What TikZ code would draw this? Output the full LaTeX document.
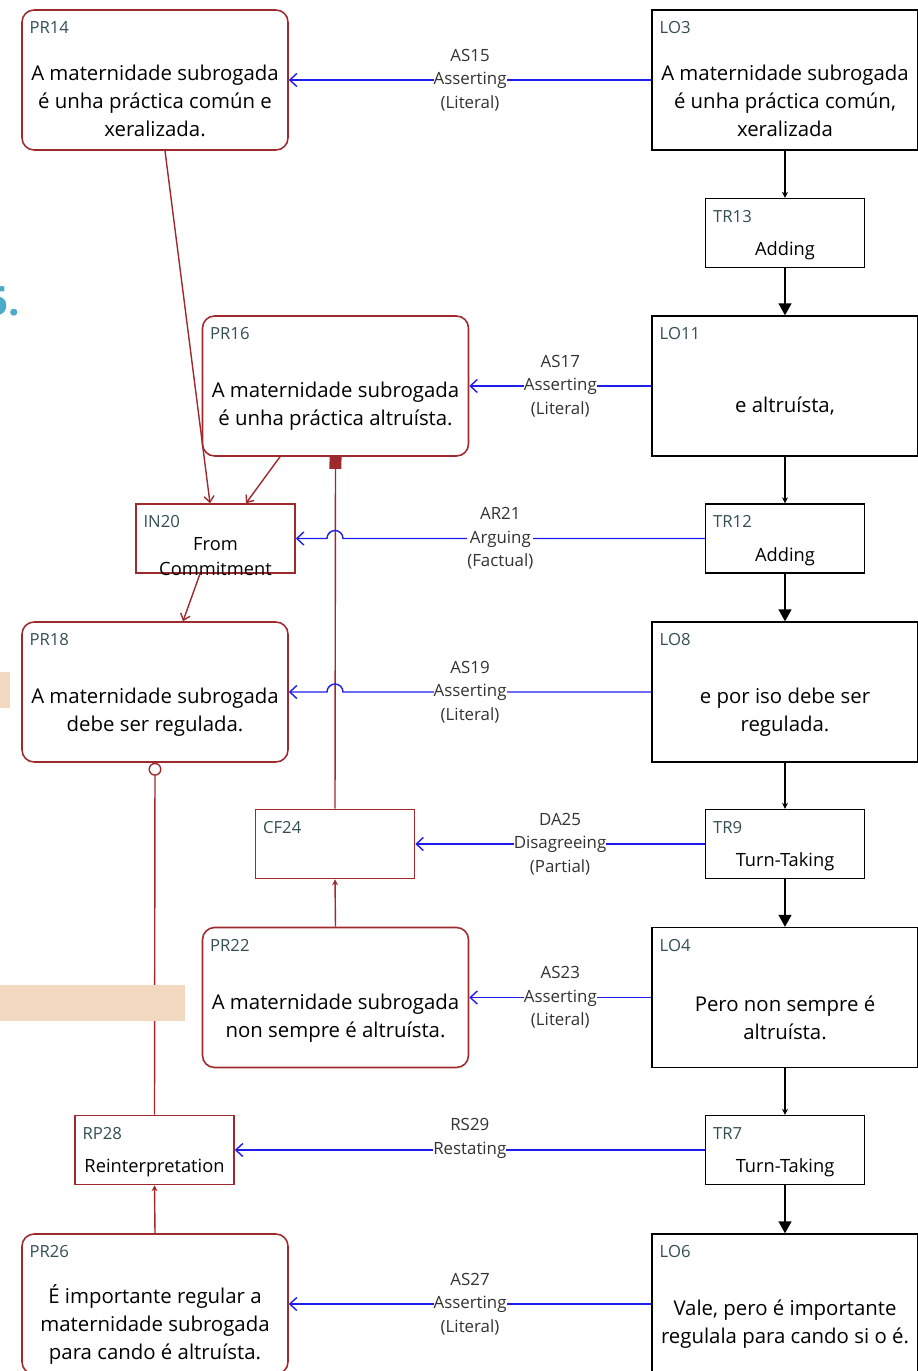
\documentclass[tikz,border=0pt]{standalone}
\usepackage{fontspec}
\setmainfont{Open Sans}
\usetikzlibrary{positioning}
\usetikzlibrary{calc}
\usetikzlibrary{arrows.meta}
\definecolor{propred}{RGB}{158,42,46}
\definecolor{idgrey}{RGB}{52,78,82}
\definecolor{actblue}{RGB}{30,30,235}
\definecolor{slidecyan}{RGB}{75,170,200}
\definecolor{slidetan}{RGB}{242,216,190}

\tikzset{
  bigbox/.style={minimum width=5.32cm, minimum height=2.8cm, inner sep=0pt},
  smallbox/.style={minimum width=3.18cm, minimum height=1.38cm, inner sep=0pt},
  prop/.style={bigbox, draw=propred, rounded corners=0.24cm, line width=0.9pt},
  loc/.style={bigbox, draw=black, line width=0.8pt},
  infer/.style={smallbox, draw=propred, line width=0.9pt},
  trans/.style={smallbox, draw=black, line width=0.8pt},
  idtag/.style={anchor=north west, inner sep=0pt, xshift=0.16cm, yshift=-0.24cm,
    text=idgrey, font=\fontsize{9.5}{11}\selectfont},
  body/.style={anchor=center, inner sep=0pt, yshift=-0.41cm, align=center,
    font=\fontsize{11.6}{15.9}\selectfont},
  smallbody/.style={anchor=center, inner sep=0pt, yshift=-0.36cm, align=center,
    font=\fontsize{10.4}{14}\selectfont},
  act/.style={draw=actblue, line width=0.8pt, -{Straight Barb[length=0.14cm,width=0.26cm]}},
  actlabel/.style={fill=white, inner xsep=0pt, inner ysep=1pt, align=center,
    text=black!80, font=\fontsize{9.6}{13.3}\selectfont},
  link/.style={draw=propred, line width=0.8pt},
  flow/.style={draw=black, line width=0.8pt},
  smalltip/.style={-{Stealth[length=0.12cm,width=0.12cm]}},
  bigtip/.style={-{Triangle[length=0.24cm,width=0.26cm]}}
}

\begin{document}
\begin{tikzpicture}[x=0.02cm, y=-0.02cm]
\useasboundingbox (0,0) rectangle (917,1371);

\node[anchor=base east, inner sep=0pt, text=slidecyan, font=\fontsize{23}{23}\selectfont\bfseries] (slidenum) at (20,316) {5.};

% locutions
\node[loc, label={[idtag]north west:LO3}, label={[body]center:{A maternidade subrogada\\é unha práctica común,\\xeralizada}}] (lo3) at (785,80) {};
\node[trans, label={[idtag]north west:TR13}, label={[smallbody]center:{Adding}}] (tr13) at (785,233) {};
\node[loc, label={[idtag]north west:LO11}, label={[body]center:{e altruísta,}}] (lo11) at (785,386) {};
\node[trans, label={[idtag]north west:TR12}, label={[smallbody]center:{Adding}}] (tr12) at (785,538.5) {};
\node[loc, label={[idtag]north west:LO8}, label={[body]center:{e por iso debe ser\\regulada.}}] (lo8) at (785,692) {};
\node[trans, label={[idtag]north west:TR9}, label={[smallbody]center:{Turn-Taking}}] (tr9) at (785,844) {};
\node[loc, label={[idtag]north west:LO4}, label={[body]center:{Pero non sempre é\\altruísta.}}] (lo4) at (785,997.5) {};
\node[trans, label={[idtag]north west:TR7}, label={[smallbody]center:{Turn-Taking}}] (tr7) at (785,1150) {};
\node[loc, label={[idtag]north west:LO6}, label={[body]center:{Vale, pero é importante\\regulala para cando si o é.}}] (lo6) at (785,1304) {};

% propositions
\node[prop, label={[idtag]north west:PR14}, label={[body]center:{A maternidade subrogada\\é unha práctica común e\\xeralizada.}}] (pr14) at (155,80) {};
\node[prop, label={[idtag]north west:PR16}, label={[body]center:{A maternidade subrogada\\é unha práctica altruísta.}}] (pr16) at (335.5,386) {};
\node[infer, label={[idtag]north west:IN20}, label={[smallbody]center:{From\\Commitment}}] (in20) at (215.5,538.5) {};
\node[prop, label={[idtag]north west:PR18}, label={[body]center:{A maternidade subrogada\\debe ser regulada.}}] (pr18) at (155,692) {};
\node[infer, label={[idtag]north west:CF24}] (cf24) at (335,844) {};
\node[prop, label={[idtag]north west:PR22}, label={[body]center:{A maternidade subrogada\\non sempre é altruísta.}}] (pr22) at (335.5,997.5) {};
\node[infer, label={[idtag]north west:RP28}, label={[smallbody]center:{Reinterpretation}}] (rp28) at (154.5,1150) {};
\node[prop, label={[idtag]north west:PR26}, label={[body]center:{É importante regular a\\maternidade subrogada\\para cando é altruísta.}}] (pr26) at (155,1304) {};

% transitions
\draw[flow, smalltip] (lo3) -- (tr13);
\draw[flow, bigtip] (tr13) -- (lo11);
\draw[flow, smalltip] (lo11) -- (tr12);
\draw[flow, bigtip] (tr12) -- (lo8);
\draw[flow, smalltip] (lo8) -- (tr9);
\draw[flow, bigtip] (tr9) -- (lo4);
\draw[flow, smalltip] (lo4) -- (tr7);
\draw[flow, bigtip] (tr7) -- (lo6);

% inference, conflict, rephrase
\draw[link, -{Straight Barb[length=0.12cm,width=0.2cm]}] ([xshift=0.2cm]pr14.south) -- ([xshift=-0.11cm]in20.north);
\draw[link, -{Straight Barb[length=0.12cm,width=0.2cm]}] ([xshift=-1.11cm]pr16.south) -- ([xshift=0.61cm]in20.north);
\draw[link, -{Straight Barb[length=0.12cm,width=0.2cm]}] ([xshift=-0.31cm]in20.south) -- ([xshift=0.56cm]pr18.north);
\draw[link, -{Square[length=0.24cm,width=0.24cm]}] (cf24.north) -- (pr16.south);
\draw[link, smalltip] (pr22.north) -- (cf24.south);
\draw[link, -{Circle[open,length=0.26cm]}] (rp28.north) -- (pr18.south);
\draw[link, smalltip] (pr26.north) -- (rp28.south);

% illocutions
\draw[act] (lo3.west) -- (pr14.east) node[midway, actlabel] (as15) {AS15\\Asserting\\(Literal)};
\draw[act] (lo11.west) -- (pr16.east) node[midway, actlabel] (as17) {AS17\\Asserting\\(Literal)};
\coordinate (hop1) at (cf24.north |- tr12.west);
\draw[act] (tr12.west) -- ([xshift=0.16cm]hop1) arc[start angle=0, end angle=180, radius=0.16cm] -- (in20.east);
\path (tr12.west) -- (in20.east) node[midway, actlabel] (ar21) {AR21\\Arguing\\(Factual)};
\coordinate (hop2) at (cf24.north |- lo8.west);
\draw[act] (lo8.west) -- ([xshift=0.16cm]hop2) arc[start angle=0, end angle=180, radius=0.16cm] -- (pr18.east);
\path (lo8.west) -- (pr18.east) node[midway, actlabel] (as19) {AS19\\Asserting\\(Literal)};
\draw[act] (tr9.west) -- (cf24.east) node[midway, actlabel] (da25) {DA25\\Disagreeing\\(Partial)};
\draw[act] (lo4.west) -- (pr22.east) node[midway, actlabel] (as23) {AS23\\Asserting\\(Literal)};
\draw[act] (tr7.west) -- (rp28.east) node[midway, actlabel, yshift=0.23cm] (rs29) {RS29\\Restating};
\draw[act] (lo6.west) -- (pr26.east) node[midway, actlabel] (as27) {AS27\\Asserting\\(Literal)};

\fill[slidetan] (0,985) rectangle (185,1021);
\fill[slidetan] (0,672) rectangle (10,708);
\end{tikzpicture}
\end{document}
